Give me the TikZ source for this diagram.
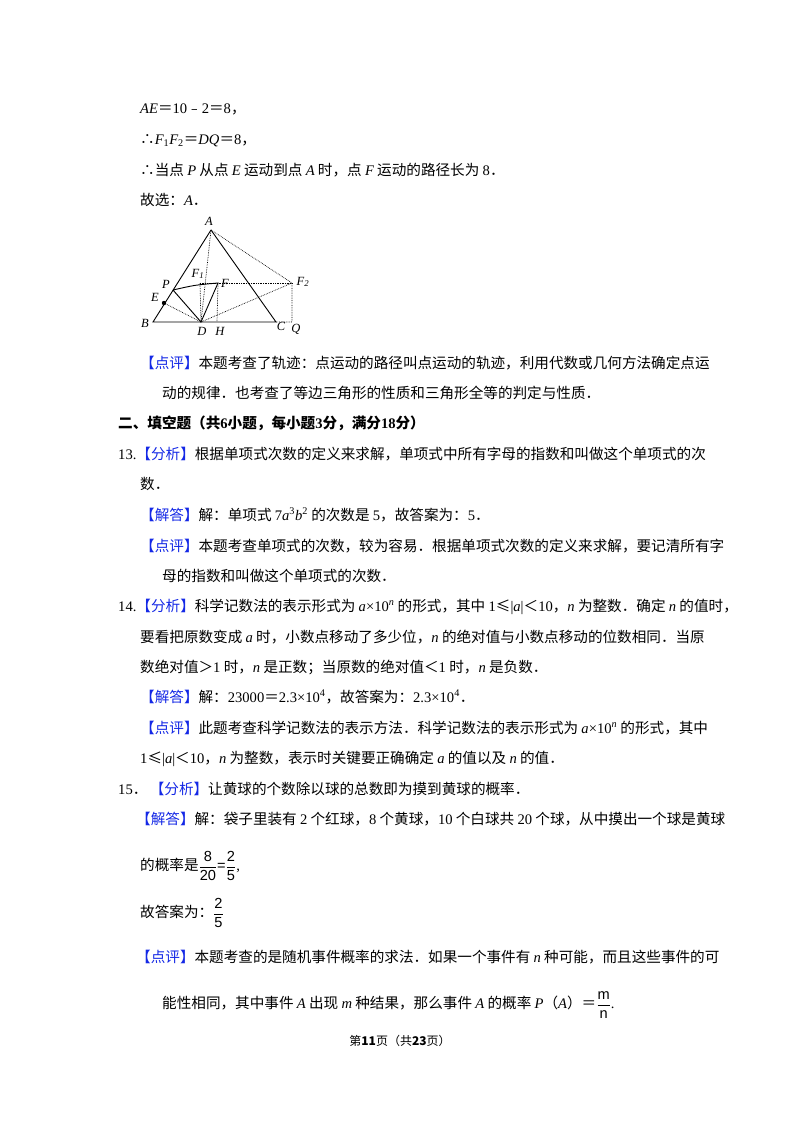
\documentclass[tikz,border=0pt]{standalone}
\usepackage{fontspec}
\setmainfont{Liberation Serif}
\setsansfont{Liberation Sans}
\newfontfamily\cjk{Noto Sans CJK SC}
\newcommand{\mi}[1]{{\rmfamily\itshape #1}}
\newcommand{\rmn}[1]{{\rmfamily #1}}
\newcommand{\fr}[2]{\raisebox{-0.1ex}{\sffamily$\displaystyle\frac{\text{#1}}{\text{#2}}$}}
\usepackage{amsmath}
\definecolor{tagblue}{RGB}{20,40,230}
\newcommand{\tg}[1]{{\color{tagblue}【#1】}}
\begin{document}
\begin{tikzpicture}[x=1pt,y=-1pt,
  tl/.style={anchor=base west,inner sep=0pt,font=\cjk\fontsize{14.6}{16}\selectfont},
  gl/.style={font=\rmfamily\itshape\fontsize{12.5}{13}\selectfont,inner sep=0pt},
  sol/.style={line width=0.9pt},
  dot/.style={densely dotted,line width=0.7pt}]
\useasboundingbox[fill=white] (0,0) rectangle (800,1132);
% text
\node[tl] (l1) at (140,113) {\mi{AE}＝\rmn{10}﹣\rmn{2}＝\rmn{8}，};
\node[tl] (l2) at (140,144) {∴\mi{F}\rmn{\textsubscript{1}}\mi{F}\rmn{\textsubscript{2}}＝\mi{DQ}＝\rmn{8}，};
\node[tl] (l3) at (140,175) {∴当点 \mi{P} 从点 \mi{E} 运动到点 \mi{A} 时，点 \mi{F} 运动的路径长为 \rmn{8}．};
\node[tl] (l4) at (140,205) {故选：\mi{A}．};
\node[tl] (l5) at (140,368) {\tg{点评}本题考查了轨迹：点运动的路径叫点运动的轨迹，利用代数或几何方法确定点运};
\node[tl] (l6) at (162,398) {动的规律．也考查了等边三角形的性质和三角形全等的判定与性质．};
\node[tl] (l7) at (118,428) {\bfseries 二、填空题（共\rmn{\bfseries 6}小题，每小题\rmn{\bfseries 3}分，满分\rmn{\bfseries 18}分）};
\node[tl] (l8) at (118,459) {\rmn{13.}\tg{分析}根据单项式次数的定义来求解，单项式中所有字母的指数和叫做这个单项式的次};
\node[tl] (l9) at (140,489) {数．};
\node[tl] (l10) at (140,520) {\tg{解答}解：单项式 \rmn{7}\mi{a}\rmn{\textsuperscript{3}}\mi{b}\rmn{\textsuperscript{2}} 的次数是 \rmn{5}，故答案为：\rmn{5}．};
\node[tl] (l11) at (140,551) {\tg{点评}本题考查单项式的次数，较为容易．根据单项式次数的定义来求解，要记清所有字};
\node[tl] (l12) at (162,581) {母的指数和叫做这个单项式的次数．};
\node[tl] (l13) at (118,611) {\rmn{14.}\tg{分析}科学记数法的表示形式为 \mi{a}\rmn{×10\textsuperscript{\itshape n}} 的形式，其中 \rmn{1}≤\rmn{|}\mi{a}\rmn{|}＜\rmn{10}，\mi{n} 为整数．确定 \mi{n} 的值时，};
\node[tl] (l14) at (140,642) {要看把原数变成 \mi{a} 时，小数点移动了多少位，\mi{n} 的绝对值与小数点移动的位数相同．当原};
\node[tl] (l15) at (140,672) {数绝对值＞\rmn{1} 时，\mi{n} 是正数；当原数的绝对值＜\rmn{1} 时，\mi{n} 是负数．};
\node[tl] (l16) at (140,702) {\tg{解答}解：\rmn{23000}＝\rmn{2.3×10\textsuperscript{4}}，故答案为：\rmn{2.3×10\textsuperscript{4}}．};
\node[tl] (l17) at (140,733) {\tg{点评}此题考查科学记数法的表示方法．科学记数法的表示形式为 \mi{a}\rmn{×10\textsuperscript{\itshape n}} 的形式，其中};
\node[tl] (l18) at (140,763) {\rmn{1}≤\rmn{|}\mi{a}\rmn{|}＜\rmn{10}，\mi{n} 为整数，表示时关键要正确确定 \mi{a} 的值以及 \mi{n} 的值．};
\node[tl] (l19) at (118,794) {\rmn{15}．\,\tg{分析}让黄球的个数除以球的总数即为摸到黄球的概率．};
\node[tl] (l20) at (136,824) {\tg{解答}解：袋子里装有 \rmn{2} 个红球，\rmn{8} 个黄球，\rmn{10} 个白球共 \rmn{20} 个球，从中摸出一个球是黄球};
\node[tl] (l21) at (140,870) {的概率是\fr{8}{20}{\sffamily=}\fr{2}{5}\rmn{,}};
\node[tl] (l22) at (140,917) {故答案为：\fr{2}{5}};
\node[tl] (l23) at (136,962) {\tg{点评}本题考查的是随机事件概率的求法．如果一个事件有 \mi{n} 种可能，而且这些事件的可};
\node[tl] (l24) at (162,1008) {能性相同，其中事件 \mi{A} 出现 \mi{m} 种结果，那么事件 \mi{A} 的概率 \mi{P}（\mi{A}）＝\fr{m}{n}\rmn{.}};
\node[anchor=base,inner sep=0pt,font=\cjk\fontsize{12}{14}\selectfont] (ft) at (400,1045) {第\textbf{11}页（共\textbf{23}页）};
% figure
\coordinate (A) at (211,230);
\coordinate (B) at (153,322);
\coordinate (C) at (276,322);
\coordinate (Q) at (292,322);
\coordinate (D) at (201,322);
\coordinate (H) at (217,322);
\coordinate (F2) at (292,283);
\coordinate (F) at (218,283);
\coordinate (F1) at (200,283);
\coordinate (P) at (173,290);
\coordinate (E) at (164,303);
\draw[sol] (A) -- (B) -- (C) -- (A);
\draw[sol] (P) .. controls (195,285) .. (F) -- (D) -- (P);
\draw[dot] (A) -- (D);
\draw[dot] (A) -- (F2) -- (Q) -- (C);
\draw[dot] (F1) -- (F2);
\draw[dot] (F1) -- (D);
\draw[dot] (F) -- (H);
\draw[dot] (E) -- (D) -- (F2);
\fill (E) circle (2.2);
\node[gl] (lA) at (209,221) {A};
\node[gl] (lB) at (145,323) {B};
\node[gl] (lC) at (281,326) {C};
\node[gl] (lQ) at (296,329) {Q};
\node[gl] (lD) at (202,331) {D};
\node[gl] (lH) at (220,331) {H};
\node[gl] (lP) at (166,284) {P};
\node[gl] (lE) at (155,297) {E};
\node[gl] (lF) at (225,283) {F};
\node[gl] (lF1) at (198,274) {F\textsubscript{1}};
\node[gl] (lF2) at (303,282) {F\textsubscript{2}};
\end{tikzpicture}
\end{document}
